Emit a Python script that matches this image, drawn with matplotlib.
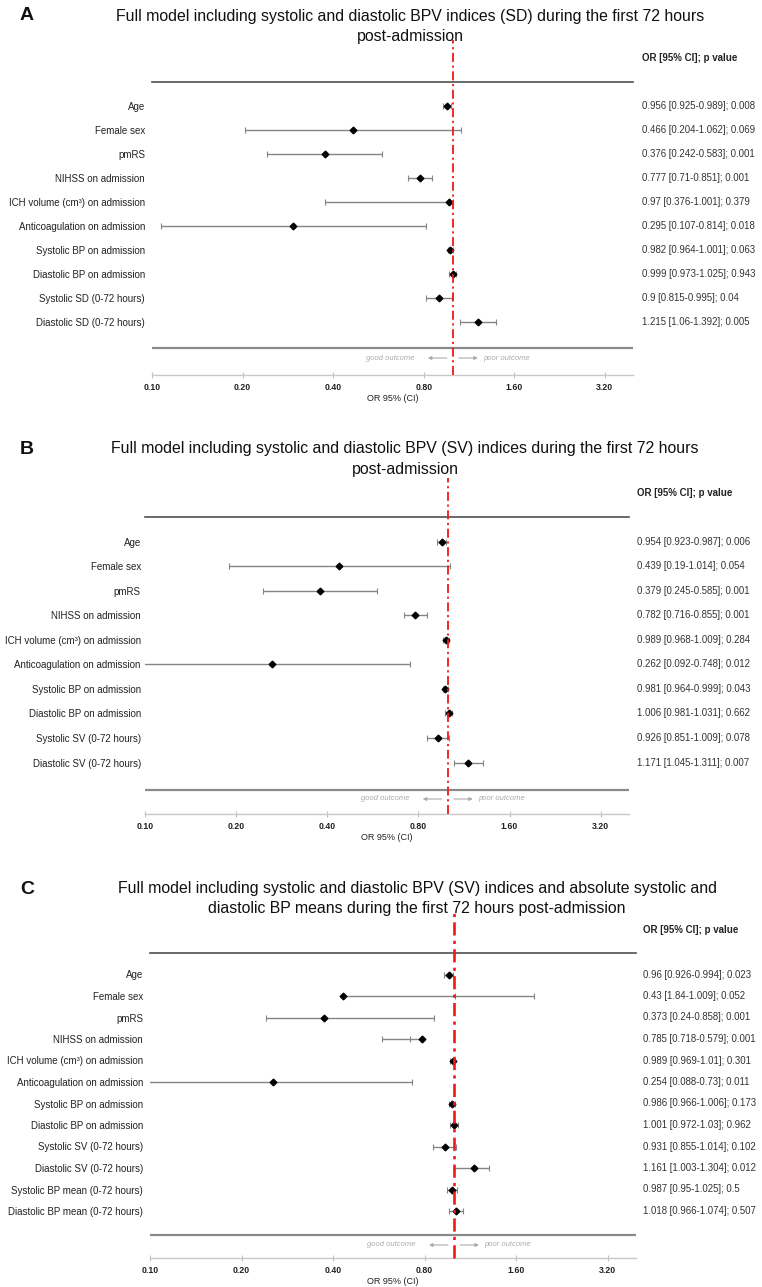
import numpy as np
import matplotlib
matplotlib.use("Agg")
import matplotlib.pyplot as plt
from matplotlib.transforms import offset_copy, blended_transform_factory
from matplotlib.ticker import NullLocator

plt.rcParams['font.family'] = ['Liberation Sans', 'DejaVu Sans']

W, H = 762, 1287

# ---------------- data ----------------
labels_base = ["Age", "Female sex", "pmRS", "NIHSS on admission",
               "ICH volume (cm³) on admission", "Anticoagulation on admission",
               "Systolic BP on admission", "Diastolic BP on admission"]

labels_A = labels_base + ["Systolic SD (0-72 hours)", "Diastolic SD (0-72 hours)"]
or_A = [0.956, 0.466, 0.376, 0.777, 0.97, 0.295, 0.982, 0.999, 0.9, 1.215]
lo_A = [0.925, 0.204, 0.242, 0.71, 0.376, 0.107, 0.964, 0.973, 0.815, 1.06]
hi_A = [0.989, 1.062, 0.583, 0.851, 1.001, 0.814, 1.001, 1.025, 0.995, 1.392]
p_A = ["0.008", "0.069", "0.001", "0.001", "0.379", "0.018", "0.063", "0.943", "0.04", "0.005"]

labels_B = labels_base + ["Systolic SV (0-72 hours)", "Diastolic SV (0-72 hours)"]
or_B = [0.954, 0.439, 0.379, 0.782, 0.989, 0.262, 0.981, 1.006, 0.926, 1.171]
lo_B = [0.923, 0.19, 0.245, 0.716, 0.968, 0.092, 0.964, 0.981, 0.851, 1.045]
hi_B = [0.987, 1.014, 0.585, 0.855, 1.009, 0.748, 0.999, 1.031, 1.009, 1.311]
p_B = ["0.006", "0.054", "0.001", "0.001", "0.284", "0.012", "0.043", "0.662", "0.078", "0.007"]

labels_C = labels_base + ["Systolic SV (0-72 hours)", "Diastolic SV (0-72 hours)",
                          "Systolic BP mean (0-72 hours)", "Diastolic BP mean (0-72 hours)"]
or_C = [0.96, 0.43, 0.373, 0.785, 0.989, 0.254, 0.986, 1.001, 0.931, 1.161, 0.987, 1.018]
lo_C = [0.926, 1.84, 0.24, 0.718, 0.969, 0.088, 0.966, 0.972, 0.855, 1.003, 0.95, 0.966]
hi_C = [0.994, 1.009, 0.858, 0.579, 1.01, 0.73, 1.006, 1.03, 1.014, 1.304, 1.025, 1.074]
p_C = ["0.023", "0.052", "0.001", "0.001", "0.301", "0.011", "0.173", "0.962", "0.102", "0.012", "0.5", "0.507"]

title_A = ["Full model including systolic and diastolic BPV indices (SD) during the first 72 hours",
           "post-admission"]
title_B = ["Full model including systolic and diastolic BPV (SV) indices during the first 72 hours",
           "post-admission"]
title_C = ["Full model including systolic and diastolic BPV (SV) indices and absolute systolic and",
           "diastolic BP means during the first 72 hours post-admission"]

tick_values = [0.10, 0.20, 0.40, 0.80, 1.60, 3.20]
tick_labels = ["0.10", "0.20", "0.40", "0.80", "1.60", "3.20"]
header_text = "OR [95% CI]; p value"
xlabel_text = "OR 95% (CI)"
good_text = "good outcome"
poor_text = "poor outcome"

# ---------------- layout (pixels) ----------------
geo_A = dict(left=152, right=633, top=82, bottom=375, spacing=24.0, bline=348, note=358,
             header=58, red_top=40, red_lw=1.3, title_cx=410, title_y=[16, 37], letter_y=15,
             val_pad=9, label_pad=5)
geo_B = dict(left=145, right=629, top=517, bottom=814, spacing=24.56, bline=790, note=799,
             header=493, red_top=478, red_lw=1.3, title_cx=405, title_y=[448, 469], letter_y=450,
             val_pad=8, label_pad=3)
geo_C = dict(left=150, right=636, top=953, bottom=1258, spacing=21.5, bline=1235, note=1245,
             header=930, red_top=912, red_lw=1.9, title_cx=417, title_y=[889, 909], letter_y=889,
             val_pad=7, label_pad=5)

fig = plt.figure(figsize=(W / 100, H / 100), dpi=100)


def fmt(v):
    return f"{v:g}"


def panel(letter, title_lines, labels, ors, los, his, ps, g):
    ax = fig.add_axes([g['left'] / W, 1 - g['bottom'] / H,
                       (g['right'] - g['left']) / W, (g['bottom'] - g['top']) / H])
    sp = g['spacing']
    ymax = (g['bottom'] - g['top']) / sp
    n = len(labels)
    rows = np.arange(1, n + 1)
    ax.set_xscale('log')
    ax.set_xlim(0.1, 3.97)
    ax.set_ylim(ymax, 0)

    gray = '#858585'
    for y, o, lo, hi in zip(rows, ors, los, his):
        a, b = min(o, lo, hi), max(o, lo, hi)
        ax.plot([a, b], [y, y], color=gray, lw=1.0, solid_capstyle='butt', zorder=2)
        ax.plot([lo, hi], [y, y], ls='none', marker='|', ms=4.5, mew=0.8, color=gray, zorder=2)
    ax.plot(ors, rows, ls='none', marker='D', ms=3.4, color='black', zorder=4)

    # bottom separator line
    ax.axhline((g['bline'] - g['top']) / sp, color='#8a8a8a', lw=1.6, zorder=1)

    # reference line at OR = 1
    red_frac = (g['bottom'] - g['red_top']) / (g['bottom'] - g['top'])
    ax.axvline(1.0, ymin=0, ymax=red_frac, color='#f01818', lw=g['red_lw'],
               ls=(0, (5, 2, 1.2, 2)), clip_on=False, zorder=5)

    # ticks
    ax.xaxis.set_minor_locator(NullLocator())
    ax.set_xticks(tick_values)
    ax.set_xticklabels(tick_labels, fontsize=6.3, fontweight='bold', color='#222222')
    ax.tick_params(axis='x', direction='inout', length=5, width=0.8, color='#c0c0c0', pad=3.5)
    ax.set_yticks(rows)
    ax.set_yticklabels(labels, fontsize=7, color='#222222')
    ax.tick_params(axis='y', length=0, pad=g['label_pad'])
    ax.set_xlabel(xlabel_text, fontsize=6.5, color='#222222', labelpad=1.5)

    for s in ('left', 'right'):
        ax.spines[s].set_visible(False)
    ax.spines['top'].set_color('#505050')
    ax.spines['top'].set_linewidth(1.2)
    ax.spines['bottom'].set_color('#c8c8c8')
    ax.spines['bottom'].set_linewidth(1.0)

    # right-hand text column
    tr = offset_copy(blended_transform_factory(ax.transAxes, ax.transData), fig=fig,
                     x=g['val_pad'], y=0, units='dots')
    for y, o, lo, hi, p in zip(rows, ors, los, his, ps):
        ax.text(1, y, f"{fmt(o)} [{fmt(lo)}-{fmt(hi)}]; {p}", transform=tr,
                ha='left', va='center', fontsize=6.9, color='#333333')
    ax.text(1, (g['header'] - g['top']) / sp, header_text, transform=tr, ha='left', va='center',
            fontsize=7, fontweight='bold', color='#222222')

    # good / poor outcome annotation
    ny = (g['note'] - g['top']) / sp
    ncol = '#ababab'
    t = lambda dx: offset_copy(ax.transData, fig=fig, x=dx, y=0, units='dots')
    ax.text(1.0, ny, good_text, transform=t(-38), ha='right', va='center',
            fontsize=5.5, style='italic', color=ncol)
    ax.text(1.0, ny, poor_text, transform=t(30), ha='left', va='center',
            fontsize=5.5, style='italic', color=ncol)
    ax.annotate('', xy=(1.0, ny), xycoords=t(-25), xytext=(1.0, ny), textcoords=t(-6),
                arrowprops=dict(arrowstyle='-|>', color=ncol, lw=0.8, mutation_scale=5,
                                shrinkA=0, shrinkB=0))
    ax.annotate('', xy=(1.0, ny), xycoords=t(25), xytext=(1.0, ny), textcoords=t(6),
                arrowprops=dict(arrowstyle='-|>', color=ncol, lw=0.8, mutation_scale=5,
                                shrinkA=0, shrinkB=0))

    # titles and panel letter
    for line, yy in zip(title_lines, g['title_y']):
        fig.text(g['title_cx'] / W, 1 - yy / H, line, ha='center', va='center',
                 fontsize=11.4, color='#111111')
    fig.text(27 / W, 1 - g['letter_y'] / H, letter, ha='center', va='center',
             fontsize=14, fontweight='bold', color='#111111')
    return ax


panel('A', title_A, labels_A, or_A, lo_A, hi_A, p_A, geo_A)
panel('B', title_B, labels_B, or_B, lo_B, hi_B, p_B, geo_B)
panel('C', title_C, labels_C, or_C, lo_C, hi_C, p_C, geo_C)

fig.savefig('out.png', dpi=100, facecolor='white')
